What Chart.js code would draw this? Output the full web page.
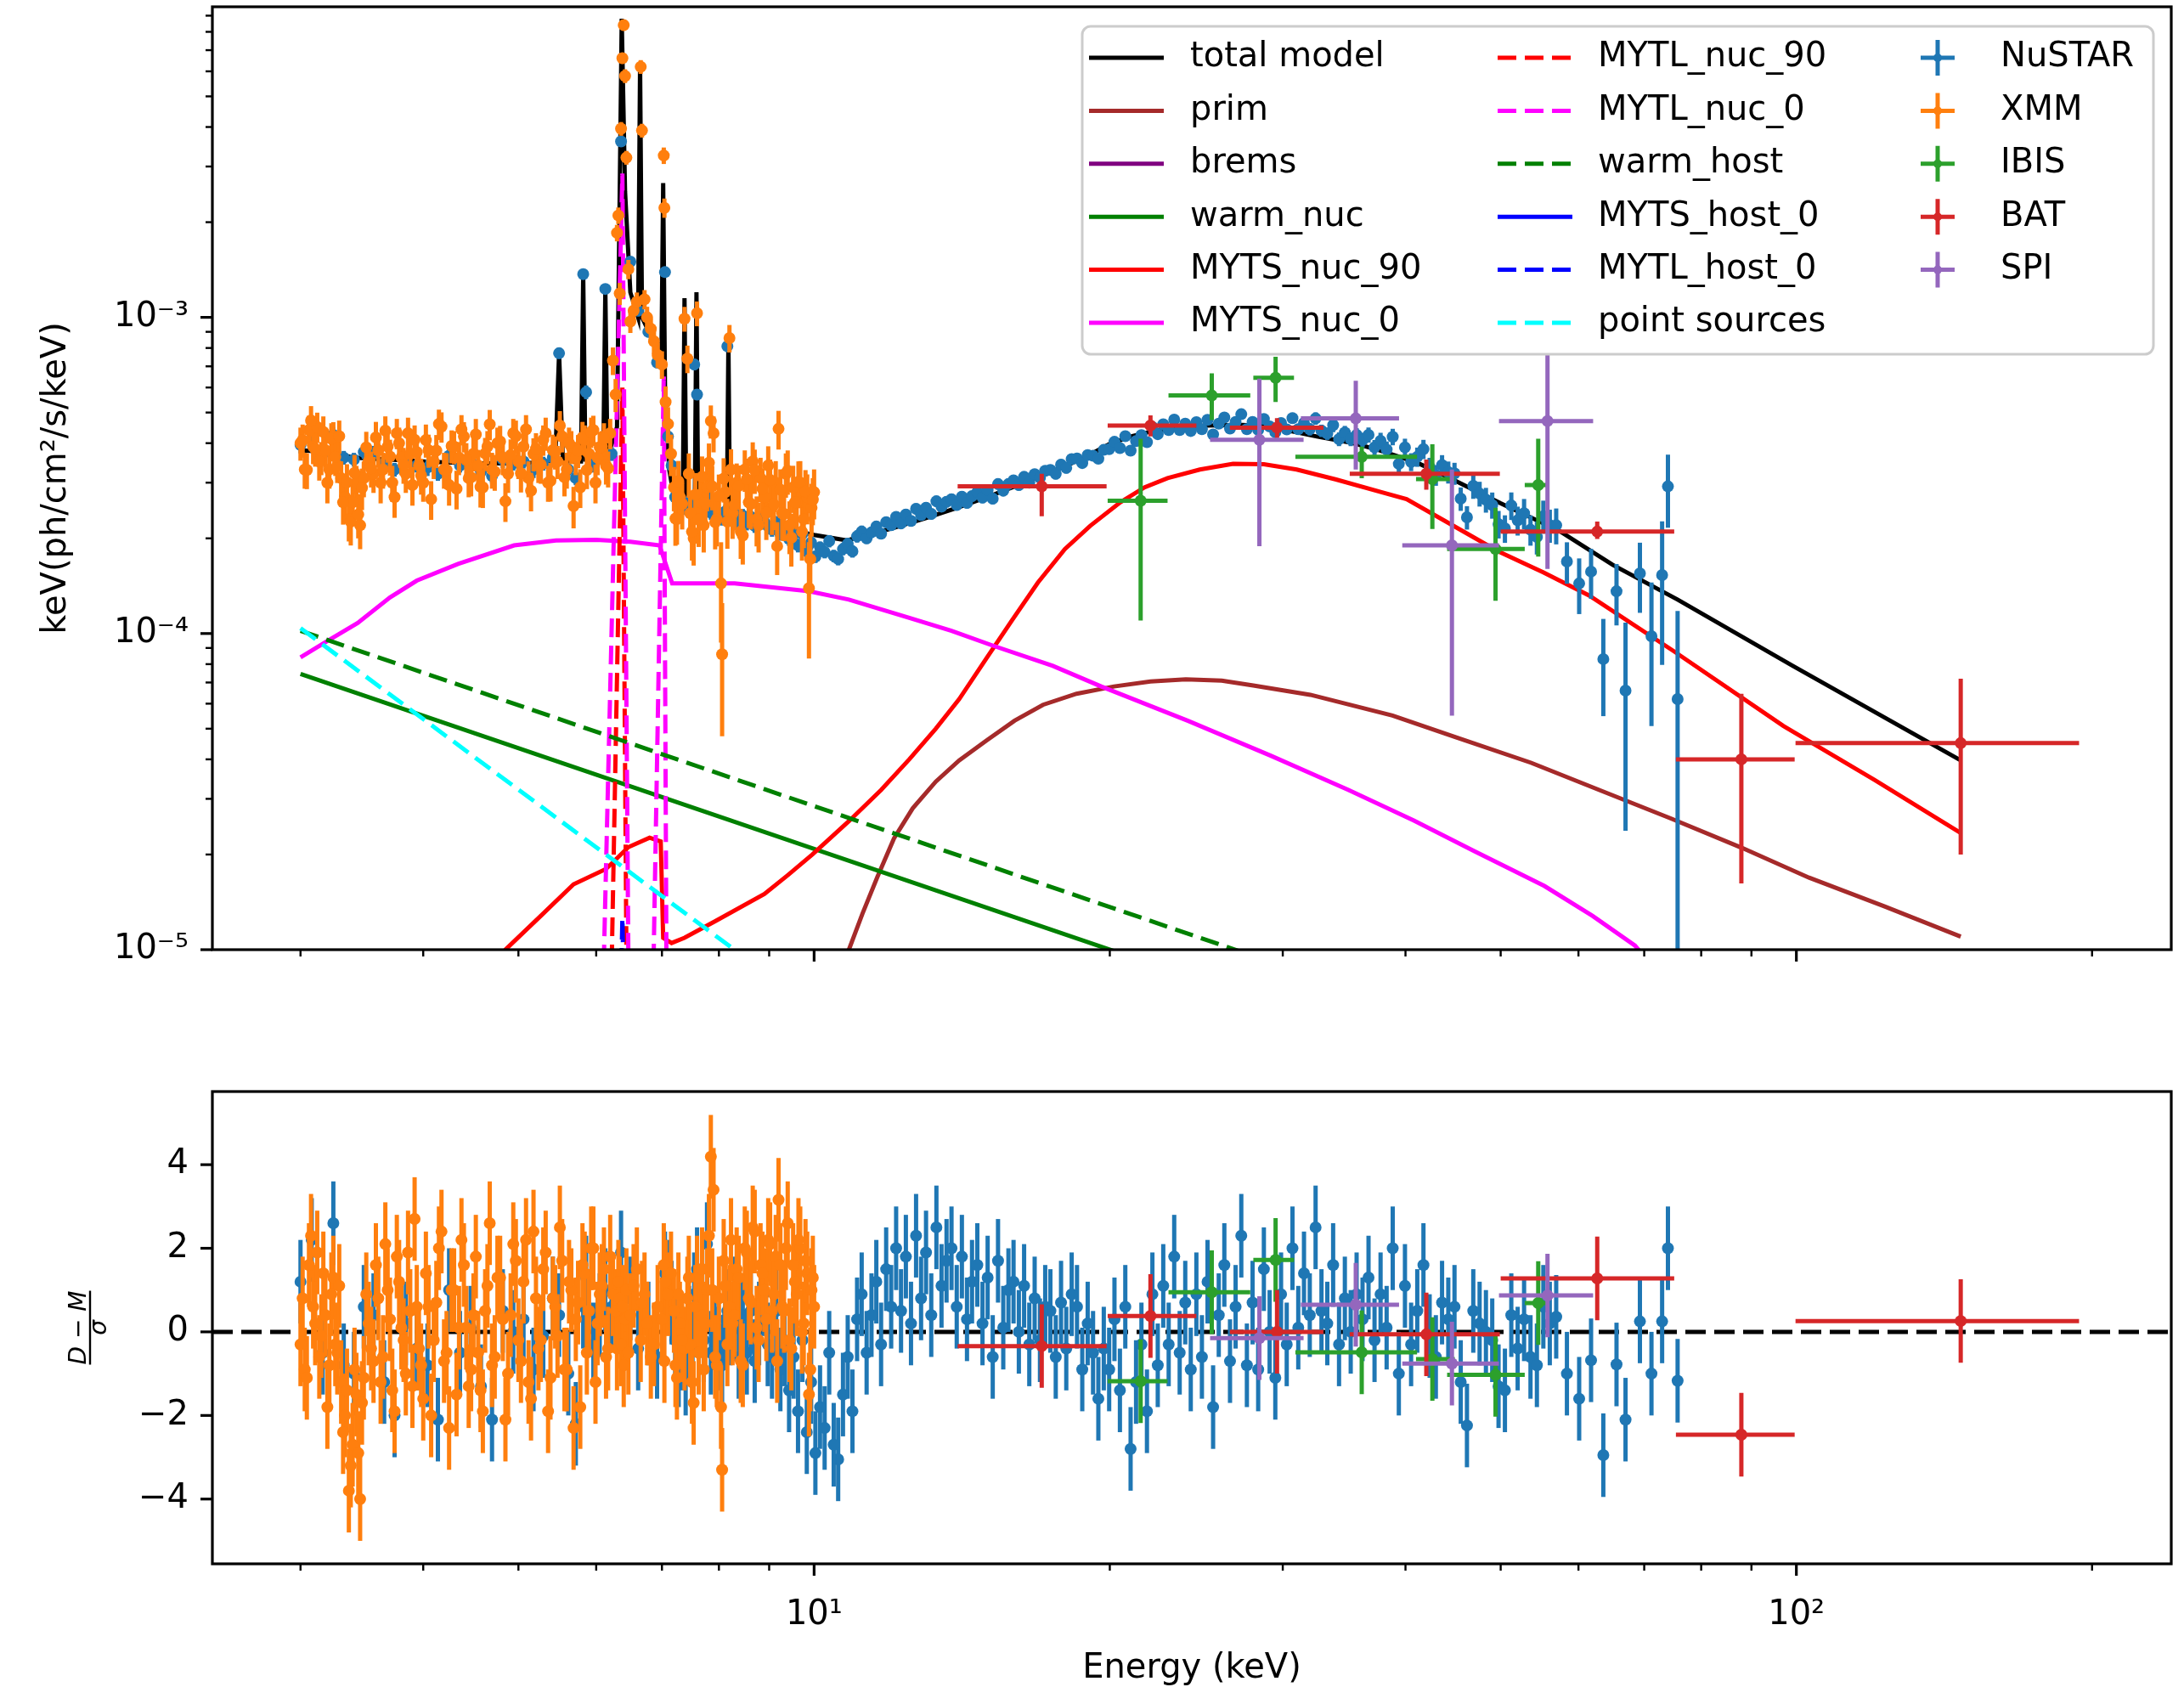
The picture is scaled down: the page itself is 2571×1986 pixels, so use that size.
<!DOCTYPE html>
<html>
<head>
<meta charset="utf-8">
<script src="https://cdn.jsdelivr.net/npm/chart.js@4.4.1/dist/chart.umd.min.js"></script>
<style>
  html, body { margin: 0; padding: 0; background: #fff; }
  #wrap { position: relative; width: 2571px; height: 2000px; background: #fff; }
  canvas { position: absolute; left: 0; }
</style>
</head>
<body>
<div id="wrap">
  <canvas id="spec" width="2571" height="1200" style="top:0px"></canvas>
  <canvas id="resid" width="2571" height="800" style="top:1200px"></canvas>
</div>
<script>
// ---- axis ranges and ticks ----
const X_MIN = 2.44, X_MAX = 240.8;
const Y_MIN = 1e-5, Y_MAX = 9.6e-3;
const R_MIN = -5.55, R_MAX = 5.75;

const energyTicks = [3, 4, 5, 6, 7, 8, 9, 10, 20, 30, 40, 50, 60, 70, 80, 90, 100, 200];
const energyMajor = [10, 100];
const energyMajorLabels = ['10\u00b9', '10\u00b2'];
const fluxTicks = [1e-5, 2e-5, 3e-5, 4e-5, 5e-5, 6e-5, 7e-5, 8e-5, 9e-5,
  1e-4, 2e-4, 3e-4, 4e-4, 5e-4, 6e-4, 7e-4, 8e-4, 9e-4,
  1e-3, 2e-3, 3e-3, 4e-3, 5e-3, 6e-3, 7e-3, 8e-3, 9e-3];
const fluxMajor = [1e-5, 1e-4, 1e-3];
const fluxMajorLabels = ['10\u207b\u2075', '10\u207b\u2074', '10\u207b\u00b3'];
const residTicks = [-4, -2, 0, 2, 4];

// ---- NuSTAR ----
const nustarEnergy = [
  3.0, 3.08, 3.16, 3.24, 3.32, 3.4, 3.48, 3.56, 3.65, 3.74,
  3.84, 3.94, 4.04, 4.14, 4.25, 4.36, 4.47, 4.58, 4.7, 4.82,
  4.94, 5.06, 5.18, 5.3, 5.42, 5.5, 5.62, 5.72, 5.82, 5.86,
  5.96, 6.05, 6.13, 6.22, 6.36, 6.5, 6.62, 6.78, 6.92, 7.05,
  7.1, 7.16, 7.22, 7.28, 7.34, 7.4, 7.46, 7.52, 7.55, 7.6,
  7.66, 7.72, 7.78, 7.85, 7.92, 7.99, 8.06, 8.12, 8.16, 8.22,
  8.3, 8.38, 8.46, 8.54, 8.62, 8.7, 8.79, 8.88, 8.97, 9.06,
  9.15, 9.24, 9.33, 9.43, 9.53, 9.63, 9.73, 9.83, 9.93, 10.03,
  10.14, 10.25, 10.36, 10.47, 10.58, 10.7, 10.82, 10.94, 11.06, 11.18,
  11.31, 11.44, 11.57, 11.7, 11.84, 11.98, 12.12, 12.26, 12.4, 12.55,
  12.7, 12.85, 13.0, 13.16, 13.32, 13.48, 13.64, 13.8, 13.97, 14.14,
  14.31, 14.48, 14.66, 14.84, 15.02, 15.2, 15.39, 15.58, 15.77, 15.96,
  16.16, 16.36, 16.56, 16.77, 16.98, 17.19, 17.4, 17.62, 17.84, 18.06,
  18.29, 18.52, 18.75, 18.99, 19.23, 19.47, 19.72, 19.97, 20.22, 20.48,
  20.74, 21.0, 21.27, 21.54, 21.82, 22.1, 22.38, 22.67, 22.96, 23.26,
  23.56, 23.87, 24.18, 24.5, 24.82, 25.15, 25.48, 25.82, 26.16, 26.51,
  26.86, 27.22, 27.58, 27.95, 28.32, 28.7, 29.09, 29.48, 29.88, 30.28,
  30.69, 31.11, 31.53, 31.96, 32.4, 32.85, 33.3, 33.76, 34.23, 34.7,
  35.18, 35.67, 36.17, 36.68, 37.2, 37.73, 38.27, 38.82, 39.38, 39.95,
  40.53, 41.12, 41.72, 42.33, 42.95, 43.58, 44.22, 44.87, 45.53, 46.2,
  46.89, 47.59, 48.3, 49.02, 49.75, 50.5, 51.26, 52.03, 52.82, 53.62,
  54.43, 55.26, 56.1, 56.95, 58.4, 60.1, 61.8, 63.6, 65.6, 67.0,
  69.3, 71.2, 73.0, 74.0, 75.7
];
const nustarFlux = [
  3.95e-4, 4.1e-4, 3.7e-4, 4.25e-4, 3.6e-4, 3.55e-4, 3.75e-4, 3.7e-4, 3.45e-4, 3.3e-4,
  3.5e-4, 3.4e-4, 3.35e-4, 3.2e-4, 3.65e-4, 3.4e-4, 3.5e-4, 3.25e-4, 3.15e-4, 3.55e-4,
  3.45e-4, 3.5e-4, 3.3e-4, 3.45e-4, 3.6e-4, 7.7e-4, 3.3e-4, 3.1e-4, 1.37e-3, 5.8e-4,
  3.4e-4, 3.6e-4, 1.23e-3, 3.7e-4, 3.6e-3, 1.5e-3, 1.05e-3, 9.0e-4, 7.2e-4, 1.39e-3,
  4.2e-4, 3.4e-4, 2.7e-4, 2.55e-4, 2.6e-4, 2.5e-4, 2.62e-4, 2.55e-4, 7.1e-4, 5.7e-4,
  2.56e-4, 2.48e-4, 2.74e-4, 2.41e-4, 2.46e-4, 2.38e-4, 2.31e-4, 2.43e-4, 8.1e-4, 2.38e-4,
  2.42e-4, 2.25e-4, 2.36e-4, 2.23e-4, 2.34e-4, 2.19e-4, 2.27e-4, 2.34e-4, 2.19e-4, 2.13e-4,
  2.24e-4, 2.07e-4, 2.13e-4, 1.99e-4, 2.06e-4, 1.9e-4, 2.07e-4, 1.82e-4, 1.94e-4, 1.75e-4,
  1.87e-4, 1.81e-4, 1.96e-4, 1.76e-4, 1.72e-4, 1.85e-4, 1.92e-4, 1.82e-4, 2.03e-4, 2.1e-4,
  2.0e-4, 2.09e-4, 2.18e-4, 2.07e-4, 2.25e-4, 2.2e-4, 2.34e-4, 2.23e-4, 2.38e-4, 2.27e-4,
  2.48e-4, 2.37e-4, 2.5e-4, 2.39e-4, 2.62e-4, 2.52e-4, 2.61e-4, 2.66e-4, 2.55e-4, 2.71e-4,
  2.59e-4, 2.72e-4, 2.8e-4, 2.69e-4, 2.84e-4, 2.67e-4, 2.97e-4, 2.83e-4, 2.97e-4, 3.05e-4,
  2.95e-4, 3.13e-4, 3.0e-4, 3.19e-4, 3.11e-4, 3.27e-4, 3.29e-4, 3.2e-4, 3.42e-4, 3.34e-4,
  3.56e-4, 3.58e-4, 3.46e-4, 3.67e-4, 3.65e-4, 3.57e-4, 3.81e-4, 3.83e-4, 4.04e-4, 3.86e-4,
  4.21e-4, 3.79e-4, 4.06e-4, 4.24e-4, 4.03e-4, 4.5e-4, 4.27e-4, 4.59e-4, 4.4e-4, 4.75e-4,
  4.4e-4, 4.61e-4, 4.37e-4, 4.66e-4, 4.43e-4, 4.74e-4, 4.26e-4, 4.61e-4, 4.82e-4, 4.45e-4,
  4.67e-4, 4.94e-4, 4.43e-4, 4.67e-4, 4.41e-4, 4.77e-4, 4.52e-4, 4.33e-4, 4.63e-4, 4.42e-4,
  4.8e-4, 4.43e-4, 4.63e-4, 4.43e-4, 4.79e-4, 4.38e-4, 4.29e-4, 4.56e-4, 4.12e-4, 4.32e-4,
  4.12e-4, 4.25e-4, 4.09e-4, 4.25e-4, 3.88e-4, 4.07e-4, 3.82e-4, 4.19e-4, 3.44e-4, 3.88e-4,
  3.49e-4, 3.62e-4, 3.83e-4, 3.36e-4, 3.17e-4, 3.41e-4, 3.24e-4, 3.21e-4, 2.67e-4, 2.33e-4,
  2.93e-4, 2.77e-4, 2.65e-4, 2.55e-4, 2.22e-4, 2.15e-4, 2.54e-4, 2.28e-4, 2.4e-4, 2.13e-4,
  2.02e-4, 2.35e-4, 2.2e-4, 2.2e-4, 1.69e-4, 1.44e-4, 1.57e-4, 8.3e-5, 1.36e-4, 6.6e-5,
  1.55e-4, 9.8e-5, 1.53e-4, 2.92e-4, 6.2e-5
];
// relative 1-sigma errors
const nustarErr = [
  0.06, 0.05, 0.05, 0.06, 0.05, 0.05, 0.05, 0.06, 0.05, 0.05,
  0.05, 0.05, 0.06, 0.05, 0.05, 0.05, 0.06, 0.05, 0.05, 0.06,
  0.05, 0.05, 0.06, 0.05, 0.05, 0.04, 0.05, 0.05, 0.03, 0.05,
  0.05, 0.05, 0.03, 0.05, 0.02, 0.03, 0.04, 0.04, 0.04, 0.03,
  0.05, 0.05, 0.05, 0.05, 0.05, 0.05, 0.05, 0.05, 0.04, 0.04,
  0.05, 0.05, 0.05, 0.05, 0.05, 0.05, 0.05, 0.05, 0.04, 0.05,
  0.05, 0.05, 0.05, 0.05, 0.05, 0.05, 0.05, 0.05, 0.05, 0.05,
  0.05, 0.05, 0.05, 0.05, 0.05, 0.05, 0.05, 0.05, 0.05, 0.045,
  0.045, 0.045, 0.045, 0.045, 0.045, 0.045, 0.045, 0.045, 0.045, 0.045,
  0.04, 0.04, 0.04, 0.04, 0.04, 0.04, 0.04, 0.04, 0.04, 0.04,
  0.04, 0.04, 0.04, 0.04, 0.04, 0.04, 0.04, 0.04, 0.04, 0.04,
  0.04, 0.04, 0.04, 0.04, 0.04, 0.04, 0.04, 0.04, 0.04, 0.04,
  0.04, 0.04, 0.04, 0.04, 0.04, 0.04, 0.04, 0.04, 0.04, 0.04,
  0.035, 0.035, 0.035, 0.035, 0.035, 0.035, 0.035, 0.035, 0.035, 0.035,
  0.035, 0.035, 0.035, 0.035, 0.035, 0.035, 0.035, 0.035, 0.035, 0.035,
  0.035, 0.035, 0.035, 0.035, 0.035, 0.035, 0.035, 0.035, 0.035, 0.035,
  0.035, 0.035, 0.035, 0.035, 0.035, 0.035, 0.035, 0.035, 0.035, 0.035,
  0.04, 0.04, 0.04, 0.045, 0.045, 0.045, 0.045, 0.05, 0.05, 0.05,
  0.05, 0.05, 0.055, 0.055, 0.055, 0.06, 0.06, 0.06, 0.065, 0.065,
  0.065, 0.07, 0.07, 0.07, 0.075, 0.075, 0.08, 0.08, 0.085, 0.085,
  0.09, 0.09, 0.09, 0.095, 0.1, 0.1, 0.1, 0.105, 0.11, 0.11,
  0.12, 0.12, 0.12, 0.13, 0.15, 0.2, 0.18, 0.34, 0.22, 0.64,
  0.25, 0.48, 0.48, 0.26, 0.9
];
const nustarResid = [
  1.2, 2.2, -0.5, 2.6, -0.8, -1.0, 0.6, 0.4, -1.2, -2.0,
  0.2, -0.4, -0.8, -2.1, 1.0, -0.5, 0.1, -1.3, -2.1, 0.5,
  0.0, 0.3, -0.9, -0.1, 0.8, 0.4, -1.0, -2.2, 0.6, 1.3,
  -0.3, 0.4, 1.0, 0.6, 1.9, 0.8, -0.4, 0.2, -0.6, 1.4,
  1.2, 0.7, -0.2, -0.8, -0.4, -1.0, 0.1, -0.3, 0.9, 1.5,
  0.4, -0.2, 2.1, -0.5, 0.1, -0.4, -0.8, 0.3, 0.5, 0.2,
  0.8, -0.6, 0.4, -0.5, 0.5, -0.7, 0.2, 0.9, -0.3, -0.6,
  0.5, -0.9, -0.3, -1.4, -0.6, -1.9, -0.2, -2.4, -1.2, -2.9,
  -1.8, -2.3, -0.5, -2.7, -3.05, -1.5, -0.6, -1.9, 0.3, 0.9,
  -0.5, 0.4, 1.2, -0.3, 1.5, 0.6, 2.0, 0.5, 1.8, 0.2,
  2.3, 0.8, 1.9, 0.4, 2.5, 1.1, 1.7, 2.0, 0.6, 1.8,
  0.3, 1.2, 1.6, 0.2, 1.3, -0.6, 1.7, 0.1, 1.0, 1.2,
  0.0, 1.1, -0.3, 0.8, -0.2, 0.6, 0.5, -0.6, 0.7, -0.4,
  0.9, 0.6, -0.9, 0.2, -0.5, -1.6, -0.4, -0.9, 0.3, -1.4,
  0.6, -2.8, -1.2, -0.3, -1.9, 0.9, -0.8, 1.1, -0.3, 1.8,
  -0.5, 0.7, -0.9, 0.9, -0.6, 1.2, -1.8, 0.4, 1.6, -0.7,
  0.6, 2.3, -0.8, 0.7, -0.9, 1.5, 0.0, -1.1, 0.9, -0.3,
  2.0, 0.1, 1.4, 0.4, 2.5, 0.5, 0.2, 1.6, -0.3, 0.8,
  0.0, 0.9, 0.3, 1.3, -0.2, 0.9, 0.1, 2.0, -1.0, 1.1,
  -0.3, 0.5, 1.6, -0.1, -0.6, 0.7, 0.3, 0.6, -1.2, -2.24,
  0.5, 0.2, 0.0, -0.2, -1.3, -1.4, 0.4, -0.4, 0.3, -0.6,
  -0.8, 0.6, 0.2, 0.36, -1.0, -1.6, -0.68, -2.95, -0.78, -2.1,
  0.25, -1.0, 0.25, 2.0, -1.17
];

// ---- XMM (first the coarse grid, then the bins lying between them) ----
const xmmEnergy = [
  3.0, 3.03, 3.06, 3.09, 3.12, 3.15, 3.18, 3.21, 3.24, 3.27,
  3.3, 3.33, 3.36, 3.39, 3.42, 3.45, 3.48, 3.52, 3.56, 3.6,
  3.64, 3.68, 3.72, 3.76, 3.8, 3.84, 3.88, 3.92, 3.96, 4.0,
  4.05, 4.1, 4.15, 4.2, 4.25, 4.3, 4.35, 4.4, 4.45, 4.5,
  4.55, 4.6, 4.65, 4.7, 4.76, 4.82, 4.88, 4.94, 5.0, 5.06,
  5.12, 5.18, 5.24, 5.3, 5.36, 5.42, 5.48, 5.54, 5.6, 5.66,
  5.72, 5.78, 5.84, 5.9, 5.96, 6.02, 6.08, 6.14, 6.2, 6.24,
  6.28, 6.3, 6.32, 6.34, 6.36, 6.38, 6.4, 6.42, 6.44, 6.47,
  6.5, 6.55, 6.6, 6.66, 6.68, 6.72, 6.76, 6.82, 6.87, 6.93,
  7.0, 7.03, 7.04, 7.06, 7.1, 7.15, 7.2, 7.25, 7.3, 7.38,
  7.43, 7.48, 7.54, 7.6, 7.66, 7.72, 7.78, 7.85, 7.9, 7.96,
  8.04, 8.06, 8.12, 8.2, 8.26, 8.34, 8.42, 8.5, 8.58, 8.66,
  8.74, 8.82, 8.9, 8.98, 9.06, 9.14, 9.2, 9.28, 9.36, 9.44,
  9.52, 9.6, 9.68, 9.76, 9.84, 9.88, 9.94, 10.0,
  3.015, 3.045, 3.075, 3.105, 3.135, 3.165, 3.195, 3.225, 3.255, 3.285,
  3.315, 3.345, 3.375, 3.405, 3.435, 3.465, 3.5, 3.54, 3.58, 3.62,
  3.66, 3.7, 3.74, 3.78, 3.82, 3.86, 3.9, 3.94, 3.98, 4.025,
  4.075, 4.125, 4.175, 4.225, 4.275, 4.325, 4.375, 4.425, 4.475, 4.525,
  4.575, 4.625, 4.675, 4.73, 4.79, 4.85, 4.91, 4.97, 5.03, 5.09,
  5.15, 5.21, 5.27, 5.33, 5.39, 5.45, 5.51, 5.57, 5.63, 5.69,
  5.75, 5.81, 5.87, 5.93, 5.99, 6.05, 6.11, 6.17,
  7.225, 7.275, 7.34, 7.455, 7.51, 7.57, 7.63, 7.69, 7.75, 7.815,
  7.875, 7.93, 8.0, 8.09, 8.16, 8.23, 8.3, 8.38, 8.46, 8.54,
  8.62, 8.7, 8.78, 8.86, 8.94, 9.02, 9.1, 9.17, 9.24, 9.32,
  9.4, 9.48, 9.56, 9.64, 9.72, 9.8, 9.91, 9.97
];
const xmmFlux = [
  4.0e-4, 3.3e-4, 4.4e-4, 3.9e-4, 4.5e-4, 3.6e-4, 3.8e-4, 3.3e-4, 4.2e-4, 3.4e-4,
  3.1e-4, 2.7e-4, 2.3e-4, 2.6e-4, 3.0e-4, 2.2e-4, 3.1e-4, 3.5e-4, 3.2e-4, 3.8e-4,
  3.3e-4, 3.9e-4, 3.0e-4, 4.3e-4, 3.6e-4, 3.2e-4, 3.7e-4, 4.1e-4, 3.4e-4, 3.0e-4,
  3.8e-4, 3.5e-4, 4.6e-4, 3.3e-4, 2.95e-4, 3.9e-4, 3.6e-4, 4.2e-4, 3.1e-4, 3.7e-4,
  3.4e-4, 2.9e-4, 3.9e-4, 3.3e-4, 4.0e-4, 3.6e-4, 3.2e-4, 4.3e-4, 3.5e-4, 3.9e-4,
  3.1e-4, 3.7e-4, 3.4e-4, 4.1e-4, 3.0e-4, 3.8e-4, 3.5e-4, 4.2e-4, 3.3e-4, 3.9e-4,
  3.6e-4, 2.9e-4, 4.1e-4, 3.7e-4, 4.4e-4, 3.6e-4, 3.9e-4, 3.4e-4, 4.3e-4, 7.3e-4,
  5.7e-4, 1.85e-3, 2.1e-3, 1.19e-3, 3.95e-3, 6.6e-3, 8.4e-3, 5.8e-3, 3.2e-3, 1.42e-3,
  9.7e-4, 1.05e-3, 1.12e-3, 6.2e-3, 3.9e-3, 1.14e-3, 1.0e-3, 9.2e-4, 8.4e-4, 7.6e-4,
  7.1e-4, 3.25e-3, 2.22e-3, 5.4e-4, 4.6e-4, 3.7e-4, 2.9e-4, 2.3e-4, 2.7e-4, 9.9e-4,
  7.4e-4, 2.4e-4, 2.0e-4, 1.03e-3, 2.6e-4, 2.2e-4, 2.9e-4, 4.7e-4, 4.3e-4, 2.3e-4,
  1.44e-4, 8.6e-5, 2.8e-4, 8.6e-4, 2.4e-4, 3.0e-4, 2.1e-4, 3.3e-4, 2.6e-4, 3.5e-4,
  2.3e-4, 3.1e-4, 2.7e-4, 3.4e-4, 2.5e-4, 3.0e-4, 4.44e-4, 2.4e-4, 3.2e-4, 2.2e-4,
  2.9e-4, 2.6e-4, 3.0e-4, 2.3e-4, 2.7e-4, 1.39e-4, 2.5e-4, 2.8e-4,
  4.09e-4, 3.29e-4, 4.72e-4, 3.83e-4, 3.5e-4, 4.34e-4, 3.0e-4, 4.13e-4, 3.62e-4, 4.21e-4,
  2.6e-4, 3.01e-4, 2.26e-4, 3.22e-4, 2.38e-4, 2.89e-4, 3.88e-4, 3.33e-4, 4.17e-4, 3.0e-4,
  4.38e-4, 3.63e-4, 2.7e-4, 4.0e-4, 3.42e-4, 4.3e-4, 2.95e-4, 3.75e-4, 3.16e-4, 4.09e-4,
  2.66e-4, 3.79e-4, 4.51e-4, 3.29e-4, 3.92e-4, 2.87e-4, 4.42e-4, 3.54e-4, 3.12e-4, 4.26e-4,
  2.91e-4, 3.71e-4, 4.59e-4, 3.25e-4, 4.05e-4, 2.62e-4, 3.67e-4, 4.21e-4, 3.21e-4, 4.42e-4,
  2.83e-4, 3.84e-4, 3.42e-4, 4.3e-4, 3.04e-4, 3.75e-4, 4.55e-4, 3.12e-4, 4.0e-4, 2.53e-4,
  3.79e-4, 4.17e-4, 3.29e-4, 4.34e-4, 3.0e-4, 3.88e-4, 4.13e-4, 3.33e-4,
  2.31e-4, 3.03e-4, 2.57e-4, 3.2e-4, 2.1e-4, 2.75e-4, 2.29e-4, 3.13e-4, 2.58e-4, 3.47e-4,
  2.92e-4, 2.25e-4, 2.72e-4, 3.09e-4, 2.26e-4, 3.3e-4, 2.55e-4, 2.93e-4, 2.04e-4, 3.08e-4,
  2.57e-4, 3.29e-4, 2.2e-4, 2.87e-4, 2.41e-4, 3.06e-4, 2.56e-4, 1.89e-4, 2.85e-4, 2.39e-4,
  3.27e-4, 2.01e-4, 2.6e-4, 3.02e-4, 2.1e-4, 2.81e-4, 1.72e-4, 2.65e-4
];
const xmmErr = [
  0.12, 0.13, 0.11, 0.12, 0.11, 0.12, 0.12, 0.13, 0.11, 0.12,
  0.13, 0.14, 0.15, 0.14, 0.13, 0.16, 0.13, 0.12, 0.13, 0.12,
  0.13, 0.11, 0.13, 0.11, 0.12, 0.13, 0.12, 0.11, 0.12, 0.13,
  0.12, 0.12, 0.11, 0.13, 0.14, 0.12, 0.12, 0.11, 0.13, 0.12,
  0.12, 0.14, 0.12, 0.13, 0.12, 0.12, 0.13, 0.11, 0.12, 0.12,
  0.13, 0.12, 0.12, 0.11, 0.13, 0.12, 0.12, 0.11, 0.13, 0.12,
  0.12, 0.14, 0.11, 0.12, 0.11, 0.12, 0.12, 0.13, 0.11, 0.1,
  0.12, 0.06, 0.06, 0.08, 0.05, 0.04, 0.04, 0.05, 0.05, 0.07,
  0.08, 0.08, 0.07, 0.05, 0.05, 0.07, 0.08, 0.08, 0.09, 0.09,
  0.1, 0.06, 0.07, 0.12, 0.13, 0.15, 0.16, 0.17, 0.16, 0.09,
  0.1, 0.17, 0.18, 0.09, 0.17, 0.18, 0.16, 0.12, 0.13, 0.18,
  0.35, 0.45, 0.16, 0.1, 0.17, 0.15, 0.18, 0.15, 0.17, 0.15,
  0.18, 0.16, 0.17, 0.15, 0.18, 0.17, 0.14, 0.18, 0.16, 0.19,
  0.17, 0.18, 0.17, 0.19, 0.18, 0.4, 0.19, 0.18,
  0.12, 0.13, 0.11, 0.12, 0.13, 0.12, 0.14, 0.12, 0.13, 0.12,
  0.15, 0.14, 0.16, 0.14, 0.16, 0.15, 0.12, 0.13, 0.12, 0.14,
  0.11, 0.13, 0.14, 0.12, 0.13, 0.12, 0.14, 0.12, 0.13, 0.12,
  0.14, 0.12, 0.11, 0.13, 0.12, 0.14, 0.11, 0.13, 0.13, 0.12,
  0.14, 0.12, 0.11, 0.13, 0.12, 0.14, 0.12, 0.12, 0.13, 0.11,
  0.14, 0.12, 0.13, 0.12, 0.14, 0.12, 0.11, 0.13, 0.12, 0.15,
  0.12, 0.12, 0.13, 0.11, 0.14, 0.12, 0.12, 0.13,
  0.18, 0.16, 0.17, 0.16, 0.19, 0.17, 0.18, 0.16, 0.17, 0.15,
  0.16, 0.18, 0.17, 0.16, 0.18, 0.16, 0.17, 0.16, 0.19, 0.16,
  0.17, 0.16, 0.18, 0.16, 0.18, 0.16, 0.17, 0.19, 0.16, 0.18,
  0.16, 0.19, 0.17, 0.16, 0.19, 0.17, 0.2, 0.17
];
const xmmResid = [
  -0.3, -0.9, 1.6, 0.6, 1.9, -0.1, 0.4, -0.8, 1.3, -0.5,
  -1.2, -2.0, -3.8, -2.7, -1.5, -4.0, -1.1, 0.2, -0.7, 0.8,
  -0.6, 1.0, -1.4, 1.8, 0.1, -1.0, 0.5, 2.7, -0.4, -1.6,
  0.6, -0.2, 2.0, -0.7, -2.3, 1.0, 0.1, 1.6, -1.3, 0.4,
  -0.5, -1.9, 1.1, -0.8, 1.3, 0.3, -1.0, 2.1, -0.2, 1.2,
  -1.2, 2.4, -0.4, 1.5, -1.9, 0.8, -0.1, 1.7, -0.9, 1.0,
  0.3, -1.8, 1.4, 0.5, 2.0, 0.2, 1.1, -0.6, 1.8, 0.9,
  0.5, -0.4, 1.2, 0.8, -0.3, 0.6, -0.8, 0.3, 1.0, -0.5,
  0.4, 1.1, 1.5, -0.2, 0.7, 0.9, 0.2, -0.6, -0.3, 0.6,
  0.3, 1.6, -0.7, 1.2, 0.9, 1.4, 0.5, -1.1, 0.2, -0.4,
  0.8, -0.3, -1.7, 1.3, 0.4, -0.9, 1.0, 4.19, 3.4, -0.8,
  -1.8, -3.3, 1.1, 0.6, 0.2, 1.5, -0.7, 2.0, 0.8, 2.5,
  0.1, 1.6, 1.0, 2.2, 0.5, 1.8, 3.16, 0.6, 2.0, -0.2,
  1.6, 0.9, 2.0, 0.2, 1.4, -1.5, 1.0, 0.6,
  0.8, -1.1, 2.3, 0.2, -0.6, 1.4, -1.8, 0.9, -0.3, 1.1,
  -2.4, -1.4, -3.2, -0.9, -2.9, -1.7, 0.9, -0.4, 1.6, -1.2,
  2.1, 0.3, -1.9, 1.2, -0.2, 1.9, -1.3, 0.6, -0.8, 1.4,
  -2.0, 0.7, 2.4, -0.5, 1.0, -1.5, 2.2, 0.1, -0.9, 1.8,
  -1.4, 0.5, 2.6, -0.6, 1.3, -2.1, 0.4, 1.7, -0.7, 2.2,
  -1.6, 0.8, -0.2, 1.9, -1.1, 0.6, 2.5, -0.9, 1.2, -2.3,
  0.7, 1.6, -0.5, 2.0, -1.2, 0.9, 1.5, -0.4,
  -0.8, 0.9, -0.2, 1.3, -1.2, 0.6, -0.5, 1.5, 0.2, 2.3,
  1.0, -0.6, 0.8, 1.7, -0.3, 2.2, 0.4, 1.3, -0.8, 1.9,
  0.7, 2.4, -0.2, 1.4, 0.3, 2.1, 0.9, -0.7, 1.6, 0.5,
  2.6, -0.4, 1.2, 2.2, 0.0, 1.7, -0.9, 1.3
];

// ---- IBIS ----
const ibisEnergy = [21.5, 25.4, 29.5, 36.1, 42.6, 49.4, 54.6];
const ibisELo = [19.9, 22.95, 28.0, 30.9, 41.0, 44.1, 52.9];
const ibisEHi = [22.9, 27.8, 30.8, 41.1, 44.9, 52.9, 55.8];
const ibisFlux = [2.63e-4, 5.66e-4, 6.44e-4, 3.62e-4, 3.08e-4, 1.85e-4, 2.95e-4];
const ibisFLo = [1.1e-4, 4.73e-4, 5.4e-4, 3.1e-4, 2.14e-4, 1.27e-4, 1.75e-4];
const ibisFHi = [4.13e-4, 6.65e-4, 7.5e-4, 3.9e-4, 3.97e-4, 2.5e-4, 4.13e-4];
const ibisResid = [-1.18, 0.95, 1.72, -0.49, -0.65, -1.03, 0.69];

// ---- BAT ----
const batEnergy = [17.05, 22.0, 29.6, 42.0, 62.7, 87.9, 147];
const batELo = [14.0, 19.9, 26.5, 35.1, 50.0, 75.4, 99.8];
const batEHi = [19.85, 24.5, 33.0, 49.9, 75.1, 99.6, 194];
const batFlux = [2.92e-4, 4.55e-4, 4.48e-4, 3.2e-4, 2.1e-4, 4.0e-5, 4.5e-5];
const batFLo = [2.35e-4, 4.2e-4, 4.15e-4, 2.85e-4, 1.99e-4, 1.62e-5, 2.0e-5];
const batFHi = [3.2e-4, 4.9e-4, 4.8e-4, 3.55e-4, 2.26e-4, 6.45e-5, 7.2e-5];
const batResid = [-0.34, 0.38, 0.0, -0.06, 1.28, -2.46, 0.26];

// ---- SPI ----
const spiEnergy = [28.4, 35.6, 44.6, 55.8];
const spiELo = [25.3, 31.3, 39.7, 49.8];
const spiEHi = [31.5, 39.4, 49.8, 62.1];
const spiFlux = [4.1e-4, 4.79e-4, 1.9e-4, 4.7e-4];
const spiFLo = [1.89e-4, 3.3e-4, 5.5e-5, 1.6e-4];
const spiFHi = [6.4e-4, 6.3e-4, 3.3e-4, 7.6e-4];
const spiResid = [-0.15, 0.65, -0.76, 0.87];

// ---- model components ----
const totalE = [3.0, 3.2, 3.4, 3.7, 4.0, 4.5, 5.0, 5.45, 5.5, 5.55,
  5.79, 5.82, 5.85, 6.1, 6.13, 6.16, 6.3, 6.37, 6.42, 6.5,
  6.62, 6.65, 6.68, 6.85, 6.99, 7.02, 7.05, 7.12, 7.2, 7.35,
  7.38, 7.41, 7.56, 7.59, 7.62, 8.15, 8.18, 8.21, 9.0, 10.0,
  10.8, 12.0, 13.0, 14.0, 15.0, 16.0, 17.0, 18.0, 19.0, 20.0,
  21.0, 22.0, 23.5, 25.0, 27.3, 29.0, 32.5, 35.4, 37.4, 41.1,
  44.6, 50.0, 57.4, 65.0, 75.7, 98.9, 147];
const totalF = [3.8e-4, 3.75e-4, 3.6e-4, 3.55e-4, 3.5e-4, 3.45e-4, 3.45e-4, 3.5e-4, 7.7e-4, 3.5e-4,
  3.5e-4, 1.37e-3, 3.55e-4, 3.55e-4, 1.23e-3, 3.6e-4, 4.5e-4, 8.8e-3, 2.5e-3, 1.2e-3,
  1.0e-3, 6.4e-3, 1.0e-3, 8.5e-4, 7.0e-4, 2.66e-3, 6.0e-4, 3.3e-4, 2.7e-4, 2.6e-4,
  1.15e-3, 2.6e-4, 2.55e-4, 1.2e-3, 2.5e-4, 2.35e-4, 8.4e-4, 2.35e-4, 2.2e-4, 2.05e-4,
  1.97e-4, 2.15e-4, 2.32e-4, 2.5e-4, 2.7e-4, 2.92e-4, 3.15e-4, 3.38e-4, 3.65e-4, 3.98e-4,
  4.2e-4, 4.35e-4, 4.48e-4, 4.55e-4, 4.57e-4, 4.52e-4, 4.2e-4, 4.0e-4, 3.82e-4, 3.47e-4,
  3.08e-4, 2.58e-4, 2.11e-4, 1.65e-4, 1.28e-4, 7.94e-5, 3.97e-5];

const primE = [10.85, 11.2, 11.6, 12.06, 12.6, 13.3, 14.05, 15.0, 16.0, 17.1,
  18.5, 20.2, 22.0, 23.9, 26.0, 28.0, 32.0, 38.8, 45.0, 53.7,
  63.0, 74.5, 88.0, 103, 123, 147];
const primF = [1.0e-5, 1.3e-5, 1.7e-5, 2.25e-5, 2.8e-5, 3.4e-5, 3.97e-5, 4.6e-5, 5.3e-5, 5.95e-5,
  6.45e-5, 6.8e-5, 7.05e-5, 7.16e-5, 7.1e-5, 6.85e-5, 6.4e-5, 5.5e-5, 4.7e-5, 3.9e-5,
  3.2e-5, 2.6e-5, 2.1e-5, 1.69e-5, 1.37e-5, 1.1e-5];

const bremsE = [3.0, 10.0, 30.0];
const bremsF = [6e-6, 4e-6, 2e-6];

const warmNucE = [3.0, 21.0];
const warmNucF = [7.45e-5, 9.5e-6];

const mytsNuc90E = [4.6, 4.85, 5.27, 5.69, 6.14, 6.47, 6.8, 6.98, 7.02, 7.16,
  7.38, 7.93, 8.9, 9.4, 9.96, 10.85, 11.7, 12.5, 13.3, 14.05,
  15.0, 15.9, 16.9, 18.0, 19.1, 20.5, 21.7, 22.9, 24.7, 26.7,
  28.7, 31.0, 34.0, 37.8, 40.1, 44.1, 49.7, 55.3, 61.5, 75.0,
  97.0, 120, 147];
const mytsNuc90F = [8e-6, 1.0e-5, 1.28e-5, 1.61e-5, 1.8e-5, 2.11e-5, 2.26e-5, 2.2e-5, 1.09e-5, 1.05e-5,
  1.09e-5, 1.23e-5, 1.5e-5, 1.72e-5, 2.0e-5, 2.55e-5, 3.2e-5, 4.0e-5, 5.0e-5, 6.2e-5,
  8.4e-5, 1.1e-4, 1.45e-4, 1.85e-4, 2.19e-4, 2.6e-4, 2.9e-4, 3.1e-4, 3.3e-4, 3.44e-4,
  3.43e-4, 3.3e-4, 3.07e-4, 2.8e-4, 2.66e-4, 2.25e-4, 1.82e-4, 1.56e-4, 1.32e-4, 8.8e-5,
  5.1e-5, 3.45e-5, 2.34e-5];

const mytsNuc0E = [3.0, 3.2, 3.43, 3.7, 3.94, 4.34, 4.95, 5.46, 6.0, 6.5,
  6.96, 7.17, 8.3, 9.88, 10.85, 12.5, 13.8, 15.2, 17.5, 19.6,
  24.0, 29.2, 35.0, 40.8, 47.0, 55.4, 62.0, 68.5, 72.0];
const mytsNuc0F = [8.4e-5, 9.5e-5, 1.08e-4, 1.3e-4, 1.47e-4, 1.66e-4, 1.9e-4, 1.97e-4, 1.98e-4, 1.95e-4,
  1.9e-4, 1.44e-4, 1.44e-4, 1.36e-4, 1.28e-4, 1.12e-4, 1.02e-4, 9.16e-5, 7.9e-5, 6.8e-5,
  5.3e-5, 4.1e-5, 3.2e-5, 2.56e-5, 2.05e-5, 1.59e-5, 1.28e-5, 1.03e-5, 8.6e-6];

const mytlNuc90E = [6.2, 6.38, 6.45];
const mytlNuc90F = [5e-6, 6e-4, 5e-6];

const mytlNuc0E = [6.08, 6.38, 6.48, 6.84, 7.03, 7.08];
const mytlNuc0F = [5e-6, 2.85e-3, 5e-6, 5e-6, 6.5e-4, 5e-6];

const warmHostE = [3.0, 28.0];
const warmHostF = [1.02e-4, 9.55e-6];

const mytsHost0E = [3.0, 10.0, 30.0];
const mytsHost0F = [3e-6, 5e-6, 4e-6];

const mytlHost0E = [6.33, 6.38, 6.43];
const mytlHost0F = [4e-6, 1.26e-5, 4e-6];

const pointSrcE = [3.0, 8.6];
const pointSrcF = [1.04e-4, 9.2e-6];

const legendColumns = [
  ['total model', 'prim', 'brems', 'warm_nuc', 'MYTS_nuc_90', 'MYTS_nuc_0'],
  ['MYTL_nuc_90', 'MYTL_nuc_0', 'warm_host', 'MYTS_host_0', 'MYTL_host_0', 'point sources'],
  ['NuSTAR', 'XMM', 'IBIS', 'BAT', 'SPI']
];

// ---- styling ----
const FONT = "'DejaVu Sans', sans-serif";
const DASH = [22, 10];
const LINE_W = 5;
const MARKER_R = 7;
const C0 = '#1f77b4', C1 = '#ff7f0e', C2 = '#2ca02c', C3 = '#d62728', C4 = '#9467bd';

Chart.defaults.font.family = FONT;
Chart.defaults.font.size = 40;
Chart.defaults.color = '#000';
Chart.defaults.animation = false;

function points(xs, ys) {
  return xs.map((x, i) => ({x: x, y: ys[i]}));
}

function modelSet(label, xs, ys, color, dashed) {
  return {
    label: label, data: points(xs, ys), showLine: true,
    borderColor: color, backgroundColor: color, borderWidth: LINE_W,
    borderDash: dashed ? DASH : [], pointRadius: 0, pointHoverRadius: 0, tension: 0
  };
}

function dataSet(label, xs, ys, color, bars) {
  return {
    label: label, data: points(xs, ys), showLine: false,
    backgroundColor: color, borderColor: color, pointRadius: MARKER_R, pointBorderWidth: 0,
    errorBars: bars
  };
}

function relBars(ys, rel) {
  return ys.map((y, i) => ({yLo: y * (1 - rel[i]), yHi: y * (1 + rel[i])}));
}

function boxBars(xLo, xHi, yLo, yHi) {
  return xLo.map((v, i) => ({xLo: v, xHi: xHi[i], yLo: yLo[i], yHi: yHi[i]}));
}

function sigmaBars(rs, xLo, xHi) {
  return rs.map((r, i) => {
    const b = {yLo: r - 1, yHi: r + 1};
    if (xLo) { b.xLo = xLo[i]; b.xHi = xHi[i]; }
    return b;
  });
}

// error bars are drawn just before the markers of their dataset
const errorBarPlugin = {
  id: 'errorBars',
  beforeDatasetDraw(chart, args) {
    const ds = chart.data.datasets[args.index];
    if (!ds.errorBars) return;
    const ctx = chart.ctx, a = chart.chartArea;
    const xs = chart.scales.x, ys = chart.scales.y;
    ctx.save();
    ctx.beginPath();
    ctx.rect(a.left, a.top, a.right - a.left, a.bottom - a.top);
    ctx.clip();
    ctx.strokeStyle = ds.borderColor;
    ctx.lineWidth = LINE_W;
    ds.errorBars.forEach((b, i) => {
      const p = ds.data[i];
      const px = xs.getPixelForValue(p.x), py = ys.getPixelForValue(p.y);
      ctx.beginPath();
      ctx.moveTo(px, ys.getPixelForValue(b.yLo));
      ctx.lineTo(px, ys.getPixelForValue(b.yHi));
      if (b.xLo !== undefined) {
        ctx.moveTo(xs.getPixelForValue(b.xLo), py);
        ctx.lineTo(xs.getPixelForValue(b.xHi), py);
      }
      ctx.stroke();
    });
    ctx.restore();
  }
};

// axes box and outward tick marks, matplotlib style
const framePlugin = {
  id: 'frame',
  afterDatasetsDraw(chart) {
    const ctx = chart.ctx, a = chart.chartArea;
    ctx.save();
    ctx.strokeStyle = '#000';
    chart.scales.x.ticks.forEach(t => {
      const px = chart.scales.x.getPixelForValue(t.value);
      ctx.lineWidth = t.major ? 3.2 : 2.4;
      ctx.beginPath();
      ctx.moveTo(px, a.bottom);
      ctx.lineTo(px, a.bottom + (t.major ? 14 : 8));
      ctx.stroke();
    });
    chart.scales.y.ticks.forEach(t => {
      const py = chart.scales.y.getPixelForValue(t.value);
      ctx.lineWidth = t.major ? 3.2 : 2.4;
      ctx.beginPath();
      ctx.moveTo(a.left, py);
      ctx.lineTo(a.left - (t.major ? 14 : 8), py);
      ctx.stroke();
    });
    ctx.lineWidth = 3.2;
    ctx.strokeRect(a.left, a.top, a.right - a.left, a.bottom - a.top);
    ctx.restore();
  }
};

function roundRect(ctx, x, y, w, h, r) {
  ctx.beginPath();
  ctx.moveTo(x + r, y);
  ctx.arcTo(x + w, y, x + w, y + h, r);
  ctx.arcTo(x + w, y + h, x, y + h, r);
  ctx.arcTo(x, y + h, x, y, r);
  ctx.arcTo(x, y, x + w, y, r);
  ctx.closePath();
}

// three column legend in the upper right corner
const legendPlugin = {
  id: 'columnLegend',
  afterDraw(chart) {
    const ctx = chart.ctx;
    const box = {left: 1274, top: 31, right: 2535, bottom: 417};
    const rowY = 68, rowStep = 62.4;
    const handleX = [1282, 1763, 2261];
    const textX = [1401, 1881, 2355];
    ctx.save();
    roundRect(ctx, box.left, box.top, box.right - box.left, box.bottom - box.top, 10);
    ctx.fillStyle = 'rgba(255,255,255,0.8)';
    ctx.fill();
    ctx.strokeStyle = '#cccccc';
    ctx.lineWidth = 3;
    ctx.stroke();
    ctx.font = '40px ' + FONT;
    ctx.textBaseline = 'middle';
    ctx.textAlign = 'left';
    legendColumns.forEach((col, c) => {
      col.forEach((name, r) => {
        const ds = chart.data.datasets.find(d => d.label === name);
        const y = rowY + r * rowStep;
        const hx = handleX[c];
        ctx.strokeStyle = ds.borderColor;
        ctx.lineWidth = LINE_W;
        if (ds.errorBars) {
          const cx = hx + 20;
          ctx.setLineDash([]);
          ctx.beginPath();
          ctx.moveTo(hx, y); ctx.lineTo(hx + 40, y);
          ctx.moveTo(cx, y - 21); ctx.lineTo(cx, y + 21);
          ctx.stroke();
          ctx.fillStyle = ds.backgroundColor;
          ctx.beginPath();
          ctx.arc(cx, y, 5, 0, Math.PI * 2);
          ctx.fill();
        } else {
          ctx.setLineDash(ds.borderDash || []);
          ctx.beginPath();
          ctx.moveTo(hx, y); ctx.lineTo(hx + 88, y);
          ctx.stroke();
          ctx.setLineDash([]);
        }
        ctx.fillStyle = '#000';
        ctx.fillText(name, textX[c], y);
      });
    });
    ctx.restore();
  }
};

// (D-M)/sigma label of the lower panel
const fractionLabel = {
  id: 'fractionLabel',
  afterDraw(chart) {
    const ctx = chart.ctx;
    const cy = (chart.chartArea.top + chart.chartArea.bottom) / 2;
    ctx.save();
    ctx.translate(106, cy);
    ctx.rotate(-Math.PI / 2);
    ctx.fillStyle = '#000';
    ctx.font = 'italic 28px ' + FONT;
    ctx.textAlign = 'center';
    ctx.textBaseline = 'alphabetic';
    const num = 'D \u2212 M';
    const w = ctx.measureText(num).width;
    ctx.fillText(num, 0, -5);
    ctx.fillRect(-w / 2, -1.2, w, 2.4);
    ctx.fillText('\u03c3', 0, 19);
    ctx.restore();
  }
};

function energyAxis(showLabels, height, title) {
  return {
    type: 'logarithmic', min: X_MIN, max: X_MAX,
    grid: {display: false, tickLength: 14}, border: {display: false},
    ticks: {
      autoSkip: false, maxRotation: 0, minRotation: 0, padding: 23,
      font: {size: 40},
      callback: v => {
        const k = energyMajor.indexOf(v);
        return showLabels && k >= 0 ? energyMajorLabels[k] : '';
      }
    },
    title: title ? {display: true, text: title, font: {size: 40}, padding: {top: 4, bottom: 11}} : {display: false},
    afterBuildTicks: s => { s.ticks = energyTicks.map(v => ({value: v, major: energyMajor.includes(v)})); },
    afterFit: s => { s.height = height; s.paddingLeft = 0; s.paddingRight = 0; }
  };
}

// ---- upper panel ----
const mainSets = [
  modelSet('total model', totalE, totalF, '#000000', false),
  modelSet('prim', primE, primF, '#a52a2a', false),
  modelSet('brems', bremsE, bremsF, '#800080', false),
  modelSet('warm_nuc', warmNucE, warmNucF, '#008000', false),
  modelSet('MYTS_nuc_90', mytsNuc90E, mytsNuc90F, '#ff0000', false),
  modelSet('MYTS_nuc_0', mytsNuc0E, mytsNuc0F, '#ff00ff', false),
  modelSet('MYTL_nuc_90', mytlNuc90E, mytlNuc90F, '#ff0000', true),
  modelSet('MYTL_nuc_0', mytlNuc0E, mytlNuc0F, '#ff00ff', true),
  modelSet('warm_host', warmHostE, warmHostF, '#008000', true),
  modelSet('MYTS_host_0', mytsHost0E, mytsHost0F, '#0000ff', false),
  modelSet('MYTL_host_0', mytlHost0E, mytlHost0F, '#0000ff', true),
  modelSet('point sources', pointSrcE, pointSrcF, '#00ffff', true),
  dataSet('NuSTAR', nustarEnergy, nustarFlux, C0, relBars(nustarFlux, nustarErr)),
  dataSet('XMM', xmmEnergy, xmmFlux, C1, relBars(xmmFlux, xmmErr)),
  dataSet('IBIS', ibisEnergy, ibisFlux, C2, boxBars(ibisELo, ibisEHi, ibisFLo, ibisFHi)),
  dataSet('BAT', batEnergy, batFlux, C3, boxBars(batELo, batEHi, batFLo, batFHi)),
  dataSet('SPI', spiEnergy, spiFlux, C4, boxBars(spiELo, spiEHi, spiFLo, spiFHi))
];
// later datasets sit on top
mainSets.forEach((d, i) => { d.order = mainSets.length - i; });

new Chart(document.getElementById('spec'), {
  type: 'scatter',
  data: {datasets: mainSets},
  options: {
    responsive: false, animation: false, events: [],
    layout: {padding: {left: 0, top: 8, right: 15, bottom: 0}},
    plugins: {legend: {display: false}, tooltip: {enabled: false}},
    scales: {
      x: energyAxis(false, 82, null),
      y: {
        type: 'logarithmic', min: Y_MIN, max: Y_MAX, position: 'left',
        grid: {display: false, tickLength: 14}, border: {display: false},
        ticks: {
          autoSkip: false, padding: 14, font: {size: 40},
          callback: v => {
            const k = fluxMajor.indexOf(v);
            return k >= 0 ? fluxMajorLabels[k] : '';
          }
        },
        title: {display: true, text: 'keV(ph/cm\u00b2/s/keV)', font: {size: 40}, padding: {top: 43, bottom: 0}},
        afterBuildTicks: s => { s.ticks = fluxTicks.map(v => ({value: v, major: fluxMajor.includes(v)})); },
        afterFit: s => { s.width = 250; s.paddingTop = 0; s.paddingBottom = 0; }
      }
    }
  },
  plugins: [errorBarPlugin, framePlugin, legendPlugin]
});

// ---- lower panel: residuals ----
const residSets = [
  {
    label: 'zero', data: [{x: X_MIN, y: 0}, {x: X_MAX, y: 0}], showLine: true,
    borderColor: '#000', borderWidth: LINE_W, borderDash: [24, 10], pointRadius: 0
  },
  dataSet('NuSTAR', nustarEnergy, nustarResid, C0, sigmaBars(nustarResid)),
  dataSet('XMM', xmmEnergy, xmmResid, C1, sigmaBars(xmmResid)),
  dataSet('IBIS', ibisEnergy, ibisResid, C2, sigmaBars(ibisResid, ibisELo, ibisEHi)),
  dataSet('BAT', batEnergy, batResid, C3, sigmaBars(batResid, batELo, batEHi)),
  dataSet('SPI', spiEnergy, spiResid, C4, sigmaBars(spiResid, spiELo, spiEHi))
];
residSets.forEach((d, i) => { d.order = residSets.length - i; });

new Chart(document.getElementById('resid'), {
  type: 'scatter',
  data: {datasets: residSets},
  options: {
    responsive: false, animation: false, events: [],
    layout: {padding: {left: 0, top: 85, right: 15, bottom: 0}},
    plugins: {legend: {display: false}, tooltip: {enabled: false}},
    scales: {
      x: energyAxis(true, 159, 'Energy (keV)'),
      y: {
        type: 'linear', min: R_MIN, max: R_MAX, position: 'left',
        grid: {display: false, tickLength: 14}, border: {display: false},
        ticks: {
          autoSkip: false, padding: 14, font: {size: 40},
          callback: v => (v < 0 ? '\u2212' + Math.abs(v) : String(v))
        },
        afterBuildTicks: s => { s.ticks = residTicks.map(v => ({value: v, major: true})); },
        afterFit: s => { s.width = 250; s.paddingTop = 0; s.paddingBottom = 0; }
      }
    }
  },
  plugins: [errorBarPlugin, framePlugin, fractionLabel]
});
</script>
</body>
</html>
